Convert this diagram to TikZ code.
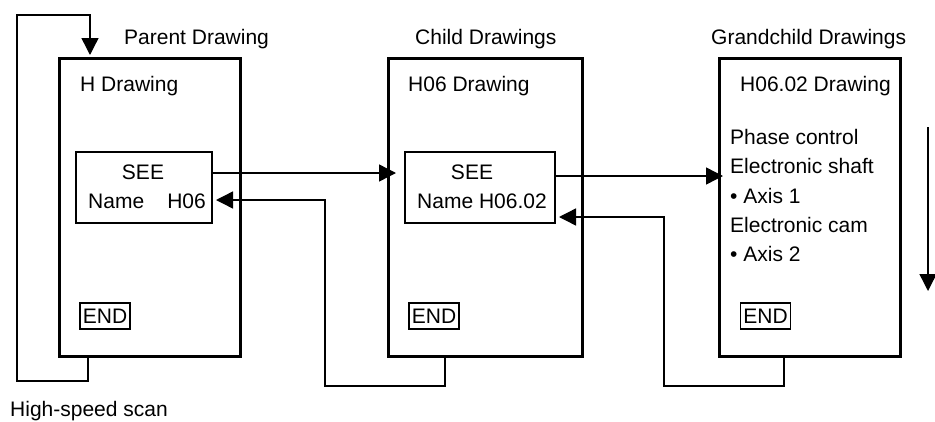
\documentclass[tikz,border=0pt]{standalone}
\usepackage{fontspec}
\setmainfont{Liberation Sans}
\usetikzlibrary{arrows.meta}
\begin{document}
\begin{tikzpicture}[x=1pt,y=-1pt,
  every node/.style={font=\fontsize{21}{25}\selectfont, inner sep=0pt},
  mainbox/.style={draw, line width=3pt},
  seebox/.style={draw, line width=1.3pt},
  endbox/.style={draw, line width=1.3pt, minimum width=50pt, minimum height=26pt},
  txt/.style={anchor=base west},
  conn/.style={line width=1.4pt},
  arr/.style={conn, -{Triangle[length=17pt,width=17pt]}}]
\useasboundingbox (0,0) rectangle (935,421);
% main boxes
\node[mainbox, minimum width=181pt, minimum height=298pt] (P) at (149.5,207) {};
\node[mainbox, minimum width=194pt, minimum height=298pt] (C) at (485,207) {};
\node[mainbox, minimum width=181pt, minimum height=298pt] (G) at (809.5,207) {};
% titles
\node[txt] (tP) at (124,44) {Parent Drawing};
\node[txt] (tC) at (415,44) {Child Drawings};
\node[txt] (tG) at (711,44) {Grandchild Drawings};
\node[txt] (hP) at (80,91) {H Drawing};
\node[txt] (hC) at (408,91) {H06 Drawing};
\node[txt] (hG) at (740,91) {H06.02 Drawing};
% SEE boxes
\node[seebox, minimum width=136pt, minimum height=71pt] (S1) at (144,187.5) {};
\node[anchor=base] (S1a) at (143,179) {SEE};
\node[txt] (S1b) at (88,208) {Name};
\node[anchor=base east] (S1c) at (206,208) {H06};
\node[seebox, minimum width=150pt, minimum height=71pt] (S2) at (480,187.5) {};
\node[anchor=base] (S2a) at (472,179) {SEE};
\node[txt] (S2b) at (417,208) {Name H06.02};
% grandchild text
\node[txt] (g1) at (730,144) {Phase control};
\node[txt] (g2) at (730,173) {Electronic shaft};
\node[txt] (g3) at (730,203) {• Axis 1};
\node[txt] (g4) at (730,232) {Electronic cam};
\node[txt] (g5) at (730,261) {• Axis 2};
% END boxes
\node[endbox] (E1) at (105,316) {END};
\node[endbox] (E2) at (434,316) {END};
\node[endbox] (E3) at (765.5,316) {END};
% high-speed scan
\node[txt] (hs) at (10,416) {High-speed scan};
% coordinates
\coordinate (pb) at (88,356);
\coordinate (pt) at (90,55);
\coordinate (a1s) at (213,173);
\coordinate (a1e) at (396,173);
\coordinate (r1s) at (445,356);
\coordinate (r1e) at (216,200);
\coordinate (a2s) at (555,176);
\coordinate (a2e) at (723,176);
\coordinate (r2s) at (784,356);
\coordinate (r2e) at (559,217);
\coordinate (vs) at (928,127);
\coordinate (ve) at (928,291);
% connectors
\draw[arr] (pb) -- (88,381) -- (17,381) -- (17,15) -- (90,15) -- (pt);
\draw[arr] (a1s) -- (a1e);
\draw[arr] (r1s) -- (445,386) -- (325,386) -- (325,200) -- (r1e);
\draw[arr] (a2s) -- (a2e);
\draw[arr] (r2s) -- (784,386) -- (664,386) -- (664,217) -- (r2e);
\draw[arr] (vs) -- (ve);
\end{tikzpicture}
\end{document}
